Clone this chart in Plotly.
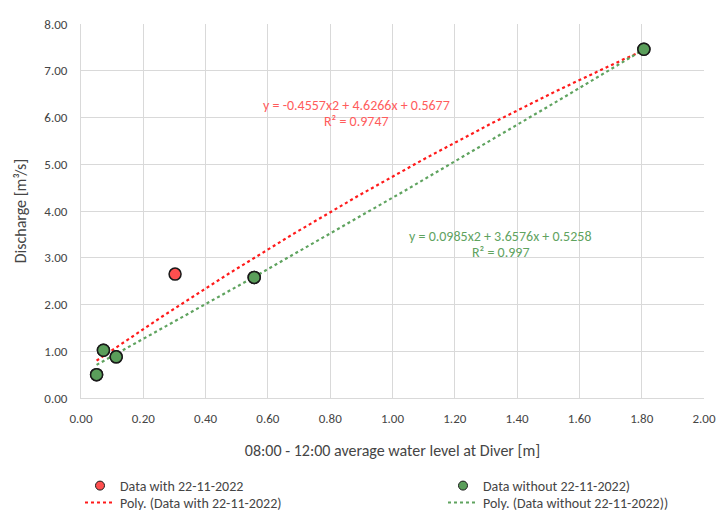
import numpy as np
import plotly.graph_objects as go

# Data
level_with = [0.050, 0.072, 0.113, 0.302, 0.556, 1.807]
discharge_with = [0.50, 1.02, 0.88, 2.65, 2.58, 7.46]
level_without = [0.050, 0.072, 0.113, 0.556, 1.807]
discharge_without = [0.50, 1.02, 0.88, 2.58, 7.46]

# Trendline coefficients as printed on the chart (a2, a1, a0)
coef_with = [-0.4557, 4.6266, 0.5677]
coef_without = [0.0985, 3.6576, 0.5258]
eq_with = ["y = -0.4557x2 + 4.6266x + 0.5677", "R² = 0.9747"]
eq_without = ["y = 0.0985x2 + 3.6576x + 0.5258", "R² = 0.997"]

FONT = "Carlito, Calibri, Lato, 'Open Sans', sans-serif"
TXT = "#454545"
RED = "#ff4f4f"
GREEN = "#5a9e5a"
RED_LINE = "#ff1a1a"
GREEN_LINE = "#5fa35f"

def poly_curve(xs, coef):
    xx = np.linspace(min(xs), max(xs), 200)
    return xx, np.polyval(coef, xx)

fig = go.Figure()

xr, yr = poly_curve(level_with, coef_with)
xg, yg = poly_curve(level_without, coef_without)

# plotted marks
fig.add_trace(go.Scatter(x=xr, y=yr, mode="lines", showlegend=False, hoverinfo="skip",
                         line=dict(color=RED_LINE, width=2.2, dash="dot")))
fig.add_trace(go.Scatter(x=xg, y=yg, mode="lines", showlegend=False, hoverinfo="skip",
                         line=dict(color=GREEN_LINE, width=2.2, dash="dot")))
fig.add_trace(go.Scatter(x=level_with, y=discharge_with, mode="markers", showlegend=False,
                         name="Data with 22-11-2022",
                         marker=dict(color=RED, size=12, line=dict(color="#1a1a1a", width=1.5))))
fig.add_trace(go.Scatter(x=level_without, y=discharge_without, mode="markers", showlegend=False,
                         name="Data without 22-11-2022)",
                         marker=dict(color=GREEN, size=12, line=dict(color="#1a1a1a", width=1.5))))

# legend entries (one legend per entry for exact placement)
fig.add_trace(go.Scatter(x=[None], y=[None], mode="markers", name="Data with 22-11-2022",
                         marker=dict(color=RED, size=9, line=dict(color="#1a1a1a", width=1)),
                         legend="legend"))
fig.add_trace(go.Scatter(x=[None], y=[None], mode="markers", name="Data without 22-11-2022)",
                         marker=dict(color=GREEN, size=9, line=dict(color="#1a1a1a", width=1)),
                         legend="legend2"))
fig.add_trace(go.Scatter(x=[None], y=[None], mode="lines", name="Poly. (Data with 22-11-2022)",
                         line=dict(color=RED_LINE, width=2, dash="dot"), legend="legend3"))
fig.add_trace(go.Scatter(x=[None], y=[None], mode="lines", name="Poly. (Data without 22-11-2022))",
                         line=dict(color=GREEN_LINE, width=2, dash="dot"), legend="legend4"))

ann_font_r = dict(family=FONT, size=14, color="#ff5c5c")
ann_font_g = dict(family=FONT, size=14, color="#5fa35f")
annotations = [
    dict(x=0.886, y=6.267, text=eq_with[0], font=ann_font_r),
    dict(x=0.886, y=5.904, text=eq_with[1], font=ann_font_r),
    dict(x=1.348, y=3.444, text=eq_without[0], font=ann_font_g),
    dict(x=1.348, y=3.102, text=eq_without[1], font=ann_font_g),
]
for a in annotations:
    a.update(xref="x", yref="y", showarrow=False)

axis_common = dict(showgrid=True, gridcolor="#d9d9d9", gridwidth=1, zeroline=False,
                   showline=True, linecolor="#d9d9d9", linewidth=1, ticks="",
                   automargin=False,
                   tickformat=".2f", tickfont=dict(family=FONT, size=13, color=TXT))

leg_common = dict(xanchor="left", yanchor="top", orientation="v",
                  font=dict(family=FONT, size=14, color=TXT), bgcolor="rgba(0,0,0,0)")
x_left = (80 - 81) / 623
x_right = (443 - 81) / 623
y_row1 = (398 - 470) / 374
y_row2 = (398 - 487) / 374

fig.update_layout(
    width=727, height=511,
    paper_bgcolor="white", plot_bgcolor="white",
    margin=dict(l=81, r=23, t=24, b=113, autoexpand=False),
    font=dict(family=FONT, color=TXT),
    xaxis=dict(range=[0, 2], dtick=0.2, ticklabelstandoff=8,
               title=dict(text="08:00 - 12:00 average water level at Diver [m]",
                          font=dict(family=FONT, size=16, color=TXT), standoff=20),
               **axis_common),
    yaxis=dict(range=[0, 8], dtick=1, ticklabelstandoff=10,
               title=dict(text="Discharge [m³/s]", font=dict(family=FONT, size=16, color=TXT),
                          standoff=13),
               **axis_common),
    annotations=annotations,
    legend=dict(x=x_left, y=y_row1, **leg_common),
    legend2=dict(x=x_right, y=y_row1, **leg_common),
    legend3=dict(x=x_left, y=y_row2, **leg_common),
    legend4=dict(x=x_right, y=y_row2, **leg_common),
    showlegend=True,
)

fig.write_html("out.html", config={"displayModeBar": False},
               post_script="document.body.style.margin='0';")
